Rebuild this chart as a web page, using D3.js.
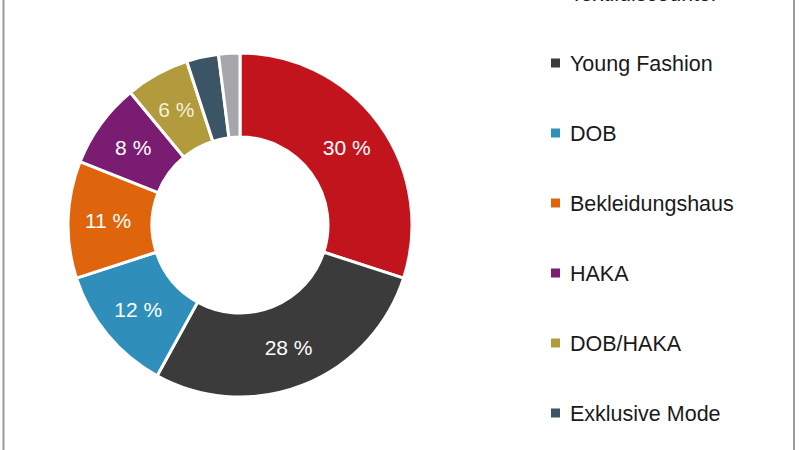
<!DOCTYPE html>
<html>
<head>
<meta charset="utf-8">
<script src="https://cdn.jsdelivr.net/npm/d3@7"></script>
<style>
  body { margin: 0; background: #fff; }
  svg { display: block; font-family: "Liberation Sans", Arial, sans-serif; }
</style>
</head>
<body>
<div id="chart"></div>
<script>
// categories and shares (percent), in slice order clockwise from 12 o'clock
const categories = ["Textildiscounter", "Young Fashion", "DOB", "Bekleidungshaus", "HAKA", "DOB/HAKA", "Exklusive Mode", "Sonstige"];
const shares = [30, 28, 12, 11, 8, 6, 3, 2];
const colors = ["#c2141d", "#3b3b3b", "#2f8fba", "#df650d", "#7a1c72", "#b19b3c", "#3c5566", "#a6a6aa"];
// how many legend entries fall inside the visible crop
const legendShown = 7;

const width = 800, height = 450;
const svg = d3.select("#chart")
  .append("svg")
    .attr("width", width)
    .attr("height", height);

// frame lines (only the left and right edges are in view)
svg.append("line").attr("x1", 3.5).attr("x2", 3.5).attr("y1", 0).attr("y2", height)
  .attr("stroke", "#9a9a9a").attr("stroke-width", 2);
svg.append("line").attr("x1", 794).attr("x2", 794).attr("y1", 0).attr("y2", height)
  .attr("stroke", "#9a9a9a").attr("stroke-width", 2);

const data = categories.map((c, i) => ({name: c, value: shares[i], color: colors[i]}));

const pie = d3.pie().sort(null).value(d => d.value);
const arc = d3.arc().innerRadius(88).outerRadius(172);
const labelArc = d3.arc().innerRadius(88).outerRadius(176);

const g = svg.append("g").attr("transform", "translate(240,225)");

const arcs = pie(data);
g.selectAll("path")
  .data(arcs)
  .join("path")
    .attr("d", arc)
    .attr("fill", d => d.data.color)
    .attr("stroke", "#fff")
    .attr("stroke-width", 3);

// percentage labels for the larger slices
g.selectAll("text")
  .data(arcs.filter(d => d.data.value >= 5))
  .join("text")
    .attr("transform", d => `translate(${labelArc.centroid(d)})`)
    .attr("text-anchor", "middle")
    .attr("dy", "0.36em")
    .attr("fill", d => d.data.name === "DOB/HAKA" ? "#f6efd9" : "#fff")
    .style("font-size", "21px")
    .text(d => d.data.value + " %");

// legend
const legend = svg.append("g")
  .selectAll("g")
  .data(data.slice(0, legendShown))
  .join("g")
    .attr("transform", (d, i) => `translate(551,${-7 + i * 70})`);

legend.append("rect")
  .attr("x", 0).attr("y", -4.5)
  .attr("width", 9).attr("height", 9)
  .attr("fill", d => d.color);

legend.append("text")
  .attr("x", 19)
  .attr("dy", "0.36em")
  .attr("fill", "#1a1a1a")
  .style("font-size", "21.5px")
  .text(d => d.name);
</script>
</body>
</html>
